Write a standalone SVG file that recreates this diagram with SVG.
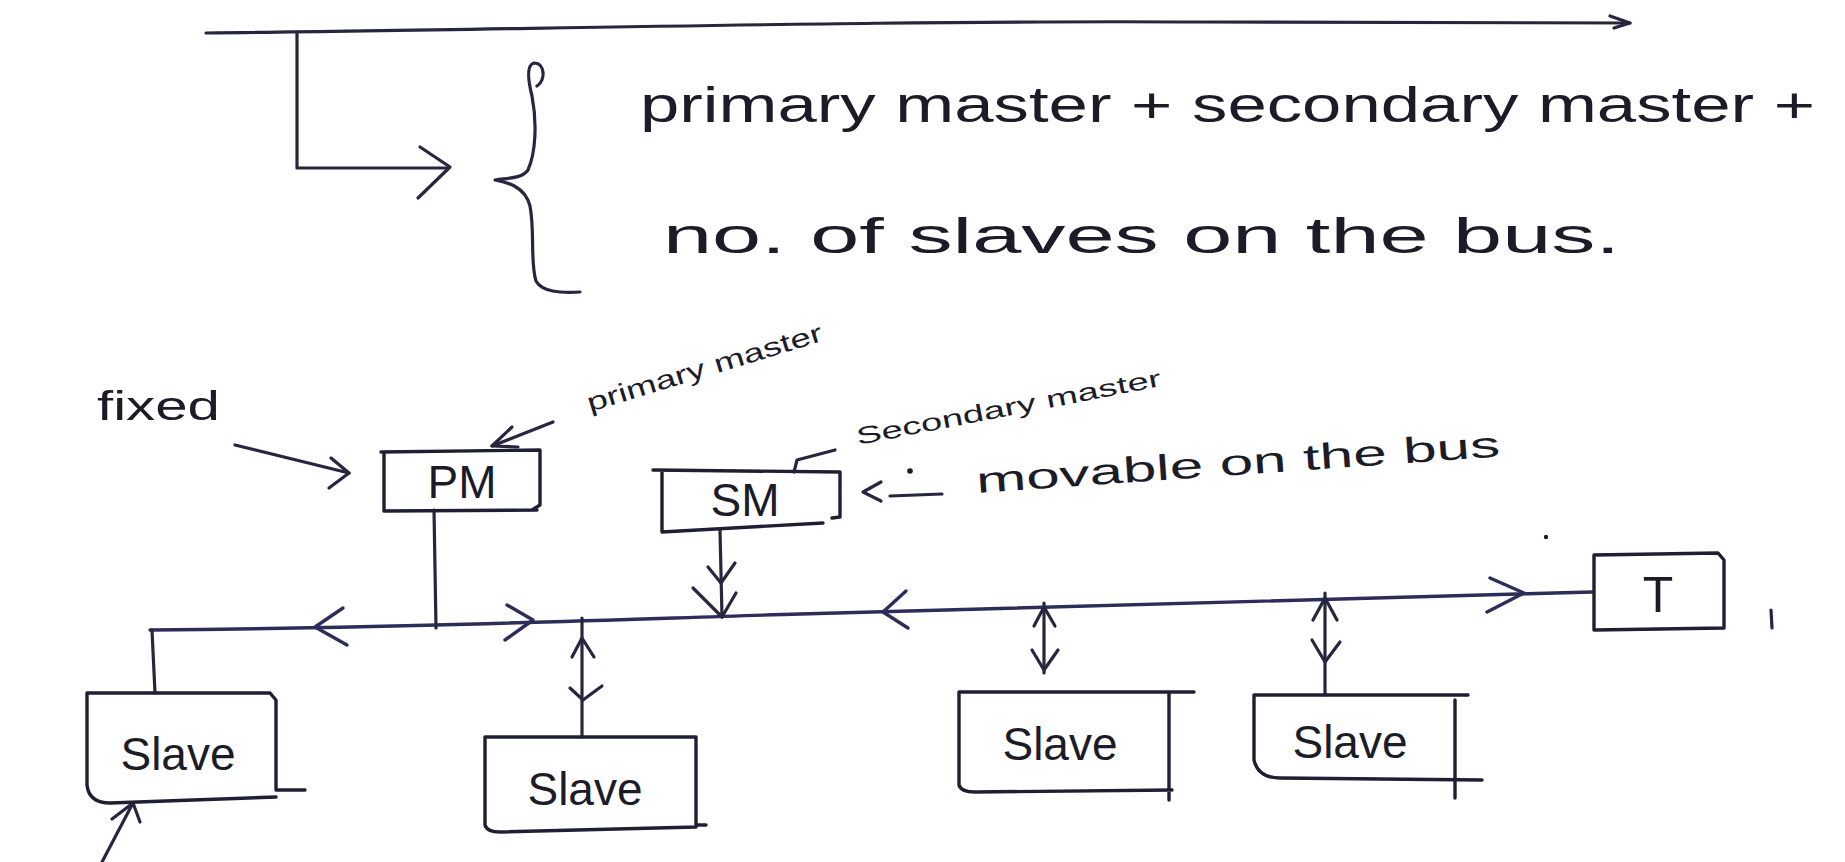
<svg xmlns="http://www.w3.org/2000/svg" width="1845" height="862" viewBox="0 0 1845 862">
<style>
.ln{stroke:#26263f;stroke-width:3.2;fill:none;stroke-linecap:round;stroke-linejoin:round}
.bus{stroke:#2d2d5a;stroke-width:3.4;fill:none;stroke-linecap:round;stroke-linejoin:round}
.bx{stroke:#1f1f33;stroke-width:3.4;fill:none;stroke-linecap:round;stroke-linejoin:round}
.t{font-family:"Liberation Sans",Arial,sans-serif;fill:#1c1c28}
.big{font-size:50px}
.lbl{font-size:46px}
.sm{font-size:26px}
</style>
<rect width="1845" height="862" fill="#ffffff"/>

<g id="connectors">
  <!-- top line with arrow -->
  <path class="ln" d="M206,33 C 500,30 900,20 1200,22 S 1580,23 1630,23"/>
  <path class="ln" d="M1610,16 L1630,23 L1614,28"/>
  <!-- bracket arrow -->
  <path class="ln" d="M297,33 L297,168 L447,168"/>
  <path class="ln" d="M420,147 L450,167 L418,198"/>
  <!-- brace -->
  <path class="ln" d="M537,86 C 546,80 545,63 534,63 C 526,65 528,80 532,96 C 537,122 536,152 528,170 C 522,179 506,178 495,180 C 506,182 525,186 530,206 C 535,232 530,262 536,281 C 542,292 560,293 580,292"/>
  <!-- fixed arrow -->
  <path class="ln" d="M235,445 L349,473"/>
  <path class="ln" d="M331,458 L349,473 L329,488"/>
  <!-- primary master pointer -->
  <path class="ln" d="M553,422 L492,446"/>
  <path class="ln" d="M512,427 L492,446 L518,447"/>
  <!-- secondary master pointer -->
  <path class="ln" d="M835,450 L797,460 L794,472"/>
  <!-- movable pointer -->
  <path class="ln" d="M881,482 L863,492 L881,501"/>
  <path class="ln" d="M890,496 L942,494"/>
  <circle cx="910" cy="471" r="2.8" fill="#1c1c28"/>
  <!-- bus -->
  <path class="bus" d="M150,630 C 400,628 600,620 800,614 S 1300,600 1592,592"/>
  <path class="bus" d="M343,608 L315,627 L347,645"/>
  <path class="bus" d="M507,605 L533,620 L505,640"/>
  <path class="bus" d="M906,591 L883,612 L908,628"/>
  <path class="bus" d="M1490,578 L1524,593 L1487,612"/>
  <!-- PM to bus -->
  <path class="ln" d="M434,510 L436,628"/>
  <!-- SM to bus -->
  <path class="ln" d="M720,530 L722,617"/>
  <path class="ln" d="M708,567 L721,583 L735,563"/>
  <path class="ln" d="M693,588 L722,617 L736,593"/>
  <!-- bus to slave 1 -->
  <path class="ln" d="M152,630 L155,693"/>
  <!-- slave 2 double arrow -->
  <path class="ln" d="M582,618 L582,737"/>
  <path class="ln" d="M572,657 L582,638 L594,657"/>
  <path class="ln" d="M570,688 L583,700 L602,686"/>
  <!-- slave 3 double arrow -->
  <path class="ln" d="M1044,603 L1044,673"/>
  <path class="ln" d="M1034,626 L1044,607 L1055,626"/>
  <path class="ln" d="M1032,650 L1044,670 L1058,650"/>
  <!-- slave 4 double arrow -->
  <path class="ln" d="M1325,593 L1325,695"/>
  <path class="ln" d="M1313,620 L1325,598 L1337,620"/>
  <path class="ln" d="M1312,640 L1325,662 L1340,642"/>
  <!-- bottom arrow to slave 1 -->
  <path class="ln" d="M102,862 L133,803"/>
  <path class="ln" d="M112,819 L133,803 L140,822"/>
  <!-- marks near T -->
  <path class="ln" d="M1771,610 L1772,628"/>
  <circle cx="1546" cy="537" r="2.2" fill="#1c1c28"/>
</g>

<g id="note">
  <text class="t big" x="640" y="122" textLength="1175" lengthAdjust="spacingAndGlyphs">primary master + secondary master +</text>
  <text class="t big" x="663" y="253" textLength="957" lengthAdjust="spacingAndGlyphs">no. of slaves on the bus.</text>
</g>

<g id="label-fixed">
  <text class="t" font-size="40" x="97" y="420" textLength="123" lengthAdjust="spacingAndGlyphs">fixed</text>
</g>
<g id="label-primary">
  <text class="t sm" x="590" y="412" transform="rotate(-17 590 412)" textLength="245" lengthAdjust="spacingAndGlyphs">primary master</text>
</g>
<g id="label-secondary">
  <text class="t" font-size="24" x="858" y="445" transform="rotate(-11 858 445)" textLength="310" lengthAdjust="spacingAndGlyphs">Secondary master</text>
</g>
<g id="label-movable">
  <text class="t" font-size="36" x="977" y="493" transform="rotate(-4 977 493)" textLength="525" lengthAdjust="spacingAndGlyphs">movable on the bus</text>
</g>

<g id="node-PM">
  <path class="bx" d="M381,452 L540,450 L540,505 L532,510 M384,452 L384,511 L537,510"/>
  <text class="t lbl" x="462" y="498" text-anchor="middle">PM</text>
</g>
<g id="node-SM">
  <path class="bx" d="M653,470 L840,472 L840,517 L832,518 M662,472 L662,532 L823,523"/>
  <text class="t lbl" x="745" y="516" text-anchor="middle">SM</text>
</g>
<g id="node-T">
  <path class="bx" d="M1594,555 L1718,553 L1724,560 L1724,628 L1594,630 Z"/>
  <text class="t" font-size="50" x="1658" y="612" text-anchor="middle">T</text>
</g>
<g id="node-slave1">
  <path class="bx" d="M87,693 L270,693 L276,700 L276,790 L305,790 M87,693 L87,785 Q 89,803 110,803 L276,797"/>
  <text class="t lbl" x="178" y="770" text-anchor="middle">Slave</text>
</g>
<g id="node-slave2">
  <path class="bx" d="M485,737 L696,737 L696,825 L706,825 M485,737 L485,825 Q 487,832 500,832 L696,827"/>
  <text class="t lbl" x="585" y="805" text-anchor="middle">Slave</text>
</g>
<g id="node-slave3">
  <path class="bx" d="M959,692 L1194,692 M1169,692 L1169,800 M959,692 L959,785 Q 961,792 975,792 L1172,790"/>
  <text class="t lbl" x="1060" y="760" text-anchor="middle">Slave</text>
</g>
<g id="node-slave4">
  <path class="bx" d="M1254,695 L1468,695 M1455,700 L1455,798 M1254,695 L1254,760 Q 1258,778 1280,778 L1482,780"/>
  <text class="t lbl" x="1350" y="758" text-anchor="middle">Slave</text>
</g>
</svg>
